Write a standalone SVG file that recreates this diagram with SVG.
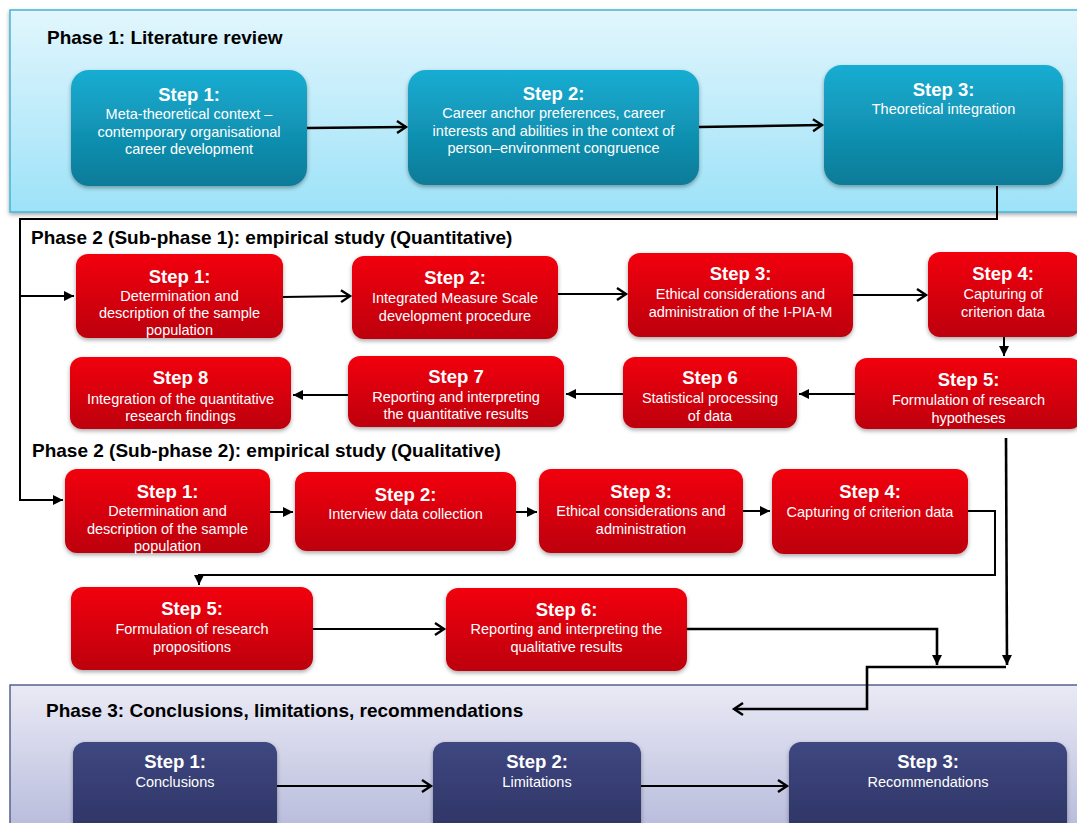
<svg xmlns="http://www.w3.org/2000/svg" width="1077" height="823" viewBox="0 0 1077 823">
  <defs>
    <linearGradient id="gPhase1" x1="0" y1="0" x2="0" y2="1">
      <stop offset="0" stop-color="#e2f6fd"/>
      <stop offset="1" stop-color="#9de2f8"/>
    </linearGradient>
    <linearGradient id="gPhase3" x1="0" y1="0" x2="0" y2="1">
      <stop offset="0" stop-color="#eaeaf5"/>
      <stop offset="1" stop-color="#b6badb"/>
    </linearGradient>
    <linearGradient id="gBlue" x1="0" y1="0" x2="0" y2="1">
      <stop offset="0" stop-color="#15add2"/>
      <stop offset="1" stop-color="#0e7b98"/>
    </linearGradient>
    <linearGradient id="gRed" x1="0" y1="0" x2="0" y2="1">
      <stop offset="0" stop-color="#f2000f"/>
      <stop offset="1" stop-color="#bd0009"/>
    </linearGradient>
    <linearGradient id="gNavy" x1="0" y1="0" x2="0" y2="1">
      <stop offset="0" stop-color="#3f4781"/>
      <stop offset="1" stop-color="#2d3464"/>
    </linearGradient>
    <filter id="shadow" x="-10%" y="-10%" width="120%" height="130%">
      <feDropShadow dx="0" dy="2" stdDeviation="2" flood-color="#000" flood-opacity="0.35"/>
    </filter>
    <marker id="open" markerUnits="userSpaceOnUse" markerWidth="14" markerHeight="16" refX="10" refY="7" orient="auto">
      <path d="M1,1 L10,7 L1,13" fill="none" stroke="#000" stroke-width="2.4"/>
    </marker>
    <marker id="tri" markerUnits="userSpaceOnUse" markerWidth="12" markerHeight="12" refX="10" refY="5" orient="auto">
      <path d="M0,0 L10,5 L0,10 Z" fill="#000"/>
    </marker>
    <marker id="faint" markerUnits="userSpaceOnUse" markerWidth="14" markerHeight="16" refX="10" refY="7" orient="auto">
      <path d="M1,1 L10,7 L1,13" fill="none" stroke="#4cc6e2" stroke-width="1.2"/>
    </marker>
  </defs>
  <style>
    .title { font-family: "Liberation Sans", Arial, sans-serif; font-weight: bold; font-size: 19px; fill: #000; }
    .head { font-family: "Liberation Sans", Arial, sans-serif; font-weight: bold; font-size: 18.5px; fill: #fff; text-anchor: middle; }
    .body { font-family: "Liberation Sans", Arial, sans-serif; font-size: 14.5px; fill: #fff; text-anchor: middle; }
    .blue { fill: url(#gBlue); filter: url(#shadow); }
    .red { fill: url(#gRed); filter: url(#shadow); }
    .navy { fill: url(#gNavy); filter: url(#shadow); }
    .wire { fill: none; stroke: #000; stroke-width: 2; }
    .thick { stroke-width: 2.6; }
  </style>

  <!-- phase panels -->
  <g id="phase1">
    <rect x="10" y="10" width="1080" height="202" fill="url(#gPhase1)" stroke="#45b4d4" stroke-width="1.5" filter="url(#shadow)"/>
    <text class="title" x="47" y="44">Phase 1: Literature review</text>
  </g>
  <g id="phase2-titles">
    <text class="title" x="31" y="244">Phase 2 (Sub-phase 1): empirical study (Quantitative)</text>
    <text class="title" x="32" y="457">Phase 2 (Sub-phase 2): empirical study (Qualitative)</text>
  </g>
  <g id="phase3">
    <rect x="10" y="685" width="1080" height="150" fill="url(#gPhase3)" stroke="#57628f" stroke-width="1.5"/>
    <text class="title" x="46" y="717">Phase 3: Conclusions, limitations, recommendations</text>
  </g>

  <!-- connectors -->
  <g id="connectors">
    <path class="wire thick" d="M307,128 L406,127" marker-end="url(#open)"/>
    <path class="wire thick" d="M699,127 L822,125" marker-end="url(#open)"/>
    <path fill="none" stroke="#4cc6e2" stroke-width="1" opacity="0.8" d="M875,133 L910,133" marker-end="url(#faint)"/>
    <path class="wire" d="M997,186 L997,219 L20,219 L20,500 L63,500" marker-end="url(#tri)"/>
    <path class="wire" stroke-width="1.5" d="M20,296 L74,296" marker-end="url(#tri)"/>
    <path class="wire" d="M283,297 L350,296" marker-end="url(#open)"/>
    <path class="wire" d="M558,294 L626,294" marker-end="url(#open)"/>
    <path class="wire" d="M853,295 L926,295" marker-end="url(#open)"/>
    <path class="wire" d="M1004,337 L1004,356" marker-end="url(#tri)"/>
    <path class="wire" d="M855,394 L799,394" marker-end="url(#tri)"/>
    <path class="wire" d="M623,394 L566,394" marker-end="url(#tri)"/>
    <path class="wire" d="M348,395 L293,395" marker-end="url(#tri)"/>
    <path class="wire" d="M270,512 L293,512" marker-end="url(#tri)"/>
    <path class="wire" d="M516,512 L537,512" marker-end="url(#tri)"/>
    <path class="wire" d="M743,511 L770,511" marker-end="url(#tri)"/>
    <path class="wire" d="M968,511 L995,511 L995,575 L199,575 L199,585" marker-end="url(#tri)"/>
    <path class="wire" d="M313,629 L444,629" marker-end="url(#open)"/>
    <path class="wire thick" d="M687,629 L937,629 L937,665" marker-end="url(#tri)"/>
    <path class="wire thick" d="M1006,438 L1007,665" marker-end="url(#tri)"/>
    <path class="wire thick" d="M1006,667 L867,667 L867,709 L734,709" marker-end="url(#open)"/>
    <path class="wire" d="M277,786 L431,786" marker-end="url(#open)"/>
    <path class="wire" d="M641,786 L787,786" marker-end="url(#open)"/>
  </g>

  <!-- phase 1 steps -->
  <g id="p1-step1">
    <rect class="blue" x="71" y="70" width="236" height="116" rx="18"/>
    <text class="head" x="189" y="101">Step 1:</text>
    <text class="body" x="189" y="119">Meta-theoretical context –</text>
    <text class="body" x="189" y="136.5">contemporary organisational</text>
    <text class="body" x="189" y="154">career development</text>
  </g>
  <g id="p1-step2">
    <rect class="blue" x="408" y="70" width="291" height="115" rx="18"/>
    <text class="head" x="553.5" y="100">Step 2:</text>
    <text class="body" x="553.5" y="118">Career anchor preferences, career</text>
    <text class="body" x="553.5" y="135.5">interests and abilities in the context of</text>
    <text class="body" x="553.5" y="153">person–environment congruence</text>
  </g>
  <g id="p1-step3">
    <rect class="blue" x="824" y="65" width="239" height="120" rx="18"/>
    <text class="head" x="943.5" y="96">Step 3:</text>
    <text class="body" x="943.5" y="114">Theoretical integration</text>
  </g>

  <!-- phase 2, sub-phase 1 steps -->
  <g id="q1-step1">
    <rect class="red" x="76" y="254" width="207" height="84" rx="12"/>
    <text class="head" x="179.5" y="283">Step 1:</text>
    <text class="body" x="179.5" y="301">Determination and</text>
    <text class="body" x="179.5" y="318">description of the sample</text>
    <text class="body" x="179.5" y="335">population</text>
  </g>
  <g id="q1-step2">
    <rect class="red" x="352" y="256" width="206" height="83" rx="12"/>
    <text class="head" x="455" y="284">Step 2:</text>
    <text class="body" x="455" y="303">Integrated Measure Scale</text>
    <text class="body" x="455" y="321">development procedure</text>
  </g>
  <g id="q1-step3">
    <rect class="red" x="628" y="253" width="225" height="84" rx="12"/>
    <text class="head" x="740.5" y="280">Step 3:</text>
    <text class="body" x="740.5" y="299">Ethical considerations and</text>
    <text class="body" x="740.5" y="317">administration of the I-PIA-M</text>
  </g>
  <g id="q1-step4">
    <rect class="red" x="928" y="252" width="152" height="85" rx="12"/>
    <text class="head" x="1003" y="280">Step 4:</text>
    <text class="body" x="1003" y="299">Capturing of</text>
    <text class="body" x="1003" y="317">criterion data</text>
  </g>
  <g id="q1-step5">
    <rect class="red" x="855" y="358" width="227" height="71" rx="12"/>
    <text class="head" x="968.5" y="386">Step 5:</text>
    <text class="body" x="968.5" y="405">Formulation of research</text>
    <text class="body" x="968.5" y="423">hypotheses</text>
  </g>
  <g id="q1-step6">
    <rect class="red" x="623" y="357" width="174" height="71" rx="12"/>
    <text class="head" x="710" y="384">Step 6</text>
    <text class="body" x="710" y="403">Statistical processing</text>
    <text class="body" x="710" y="421">of data</text>
  </g>
  <g id="q1-step7">
    <rect class="red" x="348" y="356" width="216" height="71" rx="12"/>
    <text class="head" x="456" y="383">Step 7</text>
    <text class="body" x="456" y="402">Reporting and interpreting</text>
    <text class="body" x="456" y="419">the quantitative results</text>
  </g>
  <g id="q1-step8">
    <rect class="red" x="70" y="357" width="221" height="72" rx="12"/>
    <text class="head" x="180.5" y="384">Step 8</text>
    <text class="body" x="180.5" y="404">Integration of the quantitative</text>
    <text class="body" x="180.5" y="421">research findings</text>
  </g>

  <!-- phase 2, sub-phase 2 steps -->
  <g id="q2-step1">
    <rect class="red" x="65" y="469" width="205" height="84" rx="12"/>
    <text class="head" x="167.5" y="498">Step 1:</text>
    <text class="body" x="167.5" y="516">Determination and</text>
    <text class="body" x="167.5" y="534">description of the sample</text>
    <text class="body" x="167.5" y="551">population</text>
  </g>
  <g id="q2-step2">
    <rect class="red" x="295" y="472" width="221" height="79" rx="12"/>
    <text class="head" x="405.5" y="501">Step 2:</text>
    <text class="body" x="405.5" y="519">Interview data collection</text>
  </g>
  <g id="q2-step3">
    <rect class="red" x="539" y="469" width="204" height="84" rx="12"/>
    <text class="head" x="641" y="498">Step 3:</text>
    <text class="body" x="641" y="516">Ethical considerations and</text>
    <text class="body" x="641" y="534">administration</text>
  </g>
  <g id="q2-step4">
    <rect class="red" x="772" y="469" width="196" height="85" rx="12"/>
    <text class="head" x="870" y="498">Step 4:</text>
    <text class="body" x="870" y="517">Capturing of criterion data</text>
  </g>
  <g id="q2-step5">
    <rect class="red" x="71" y="587" width="242" height="83" rx="12"/>
    <text class="head" x="192" y="615">Step 5:</text>
    <text class="body" x="192" y="634">Formulation of research</text>
    <text class="body" x="192" y="652">propositions</text>
  </g>
  <g id="q2-step6">
    <rect class="red" x="446" y="588" width="241" height="83" rx="12"/>
    <text class="head" x="566.5" y="616">Step 6:</text>
    <text class="body" x="566.5" y="634">Reporting and interpreting the</text>
    <text class="body" x="566.5" y="652">qualitative results</text>
  </g>

  <!-- phase 3 steps -->
  <g id="p3-step1">
    <rect class="navy" x="73" y="742" width="204" height="92" rx="12"/>
    <text class="head" x="175" y="768">Step 1:</text>
    <text class="body" x="175" y="787">Conclusions</text>
  </g>
  <g id="p3-step2">
    <rect class="navy" x="433" y="742" width="208" height="92" rx="12"/>
    <text class="head" x="537" y="768">Step 2:</text>
    <text class="body" x="537" y="787">Limitations</text>
  </g>
  <g id="p3-step3">
    <rect class="navy" x="789" y="742" width="278" height="92" rx="12"/>
    <text class="head" x="928" y="768">Step 3:</text>
    <text class="body" x="928" y="787">Recommendations</text>
  </g>
</svg>
